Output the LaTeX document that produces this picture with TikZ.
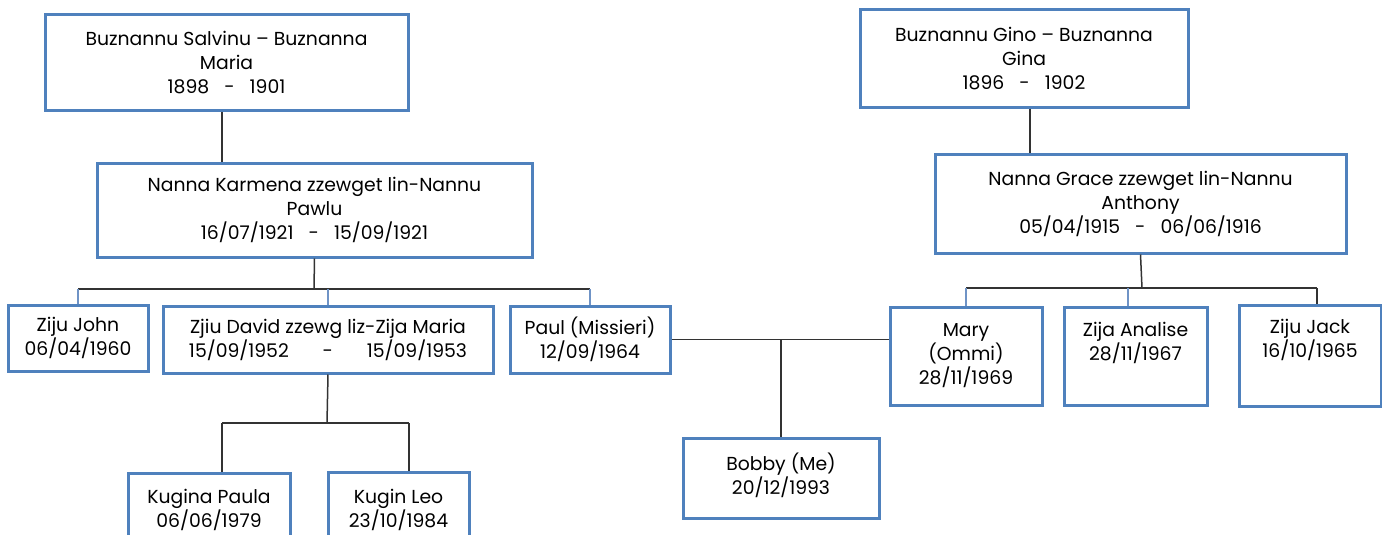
\documentclass[tikz,border=0pt]{standalone}
\usepackage{fontspec}
\setmainfont{Poppins}
\definecolor{boxblue}{HTML}{4F81BD}
\definecolor{dropblue}{HTML}{6F93C6}
\definecolor{linegray}{HTML}{333333}
\tikzset{
  person/.style={draw=boxblue,line width=3pt,fill=white,align=center,inner sep=2pt,
    font=\fontsize{18.8}{24}\selectfont},
  link/.style={draw=linegray,line width=1.5pt},
  drop/.style={draw=dropblue,line width=1.1pt}
}
\begin{document}
\begin{tikzpicture}[x=1pt,y=-1pt]
\useasboundingbox (0,0) rectangle (1382,535);
% grandparents
\node[person,minimum width=363,minimum height=95] (salvinu) at (226.5,62.5)
  {Buznannu Salvinu -- Buznanna\\Maria\\1898 \ \ - \ \ 1901};
\node[person,minimum width=328,minimum height=97] (gino) at (1024,58.5)
  {Buznannu Gino -- Buznanna\\Gina\\1896 \ \ - \ \ 1902};
% parents
\node[person,minimum width=435,minimum height=94] (karmena) at (314.5,210)
  {Nanna Karmena zzewget lin-Nannu\\Pawlu\\16/07/1921 \ \ - \ \ 15/09/1921};
\node[person,minimum width=411,minimum height=99] (grace) at (1140.5,203.5)
  {Nanna Grace zzewget lin-Nannu\\Anthony\\05/04/1915 \ \ - \ \ 06/06/1916};
% children
\node[person,minimum width=140,minimum height=66] (john) at (78,338)
  {Ziju John\\06/04/1960};
\node[person,minimum width=330,minimum height=67] (david) at (328,339.5)
  {Zjiu David zzewg liz-Zija Maria\\15/09/1952 \quad\ \ - \quad\ \ 15/09/1953};
\node[person,minimum width=160,minimum height=67] (paul) at (590,339.5)
  {Paul (Missieri)\\12/09/1964};
\node[person,minimum width=152,minimum height=98] (mary) at (966,356)
  {Mary\\(Ommi)\\28/11/1969};
\node[person,minimum width=143,minimum height=98,text depth=29pt] (analise) at (1135.5,356)
  {Zija Analise\\28/11/1967};
\node[person,minimum width=142,minimum height=101,text depth=34pt] (jack) at (1310,355.5)
  {Ziju Jack\\16/10/1965};
% grandchildren
\node[person,minimum width=196,minimum height=80,text depth=8pt] (bobby) at (781,478)
  {Bobby (Me)\\20/12/1993};
\node[person,minimum width=162,minimum height=82,text depth=11pt] (paula) at (209,514)
  {Kugina Paula\\06/06/1979};
\node[person,minimum width=141,minimum height=83,text depth=11pt] (leo) at (398.5,513.5)
  {Kugin Leo\\23/10/1984};
% connectors
\coordinate (lbar) at (314,289);
\coordinate (rbar) at (1142,288);
\coordinate (dbar) at (327,423);
\coordinate (pdrop) at (222,423);
\coordinate (ldrop) at (409,423);
\coordinate (adrop) at (1128,288);
\coordinate (jdrop) at (1317,288);
\draw[link] ([xshift=-4.5pt]salvinu.south) -- ([xshift=-4.5pt]salvinu.south |- karmena.north);
\draw[link] ([xshift=6pt]gino.south) -- ([xshift=6pt]gino.south |- grace.north);
\draw[link] (karmena.south) -- (lbar);
\draw[link] (john.north |- lbar) -- (paul.north |- lbar);
\draw[drop] (john.north |- lbar) -- (john.north);
\draw[drop] (david.north |- lbar) -- (david.north);
\draw[drop] (paul.north |- lbar) -- (paul.north);
\draw[link] (grace.south) -- (rbar);
\draw[link] (mary.north |- rbar) -- (jdrop);
\draw[drop] (mary.north |- rbar) -- (mary.north);
\draw[drop] (adrop) -- (adrop |- analise.north);
\draw[link] (jdrop) -- (jdrop |- jack.north);
\draw[link] (paul.east) -- (paul.east -| mary.west);
\draw[link] (bobby.north |- paul.east) -- (bobby.north);
\draw[link] (david.south) -- (dbar);
\draw[link] (pdrop) -- (ldrop);
\draw[link] (pdrop) -- (pdrop |- paula.north);
\draw[link] (ldrop) -- (ldrop |- leo.north);
\end{tikzpicture}
\end{document}
